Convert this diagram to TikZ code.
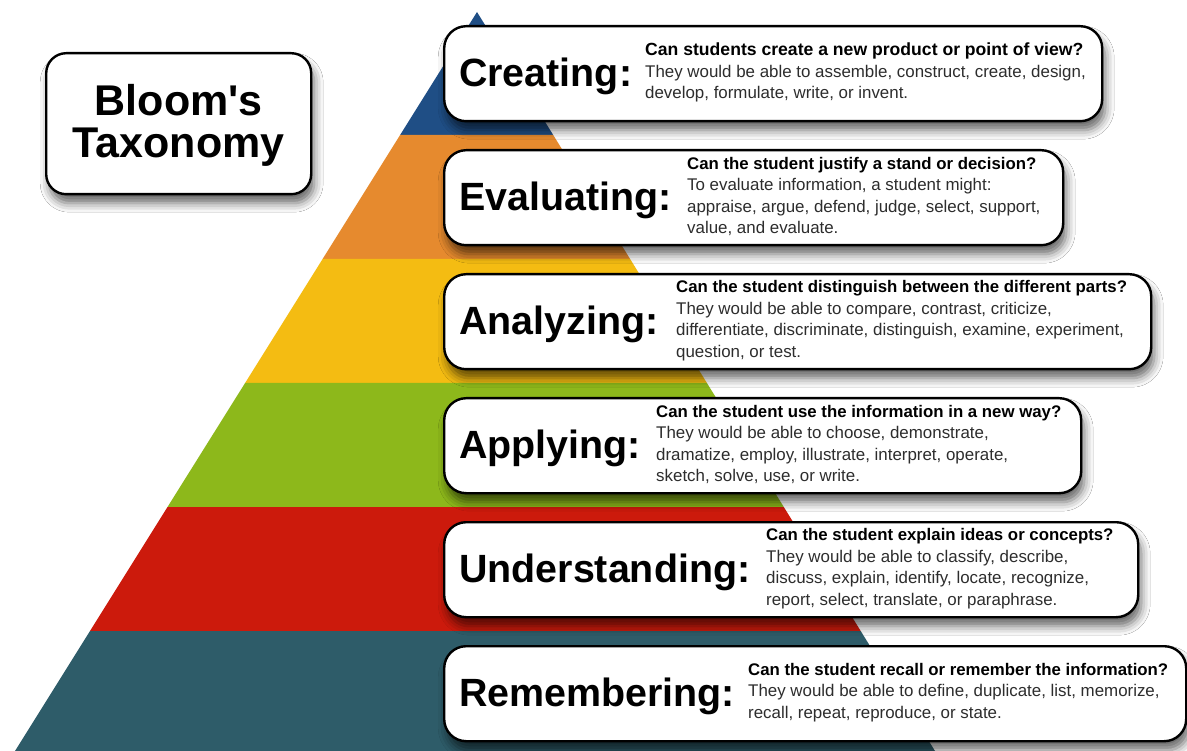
\documentclass[tikz,border=0pt]{standalone}
\usepackage{fontspec}
\setmainfont{Liberation Sans}
\usetikzlibrary{shadows.blur}
\definecolor{cBlue}{RGB}{31,78,133}
\definecolor{cOrange}{RGB}{230,138,46}
\definecolor{cYellow}{RGB}{244,188,18}
\definecolor{cGreen}{RGB}{141,184,27}
\definecolor{cRed}{RGB}{204,26,12}
\definecolor{cTeal}{RGB}{46,92,105}
\definecolor{descgray}{RGB}{45,45,45}
\tikzset{
  box/.style={draw=black, line width=2.4pt, fill=white, rounded corners=22pt,
    blur shadow={shadow xshift=3pt, shadow yshift=-9pt, shadow blur radius=9pt, shadow opacity=60},
    anchor=north west, inner sep=0pt},
  head/.style={anchor=base west, inner sep=0pt, font=\fontsize{39.4}{44}\selectfont\bfseries},
  desc/.style={anchor=west, inner sep=0pt, align=left, text=descgray,
    font=\fontsize{16.9}{21.5}\selectfont},
}
\newcommand{\qline}[2][16.8]{{\color{black}\bfseries\fontsize{#1}{21.5}\selectfont #2}}
\begin{document}
\begin{tikzpicture}[x=1pt,y=-1pt]
\useasboundingbox (0,0) rectangle (1187,751);
\fill[white] (0,0) rectangle (1187,751);
% pyramid bands
\fill[cBlue]   (477,12) -- (553.2,135) -- (400.1,135) -- cycle;
\fill[cOrange] (400.1,135) -- (553.2,135) -- (630.1,259) -- (322.6,259) -- cycle;
\fill[cYellow] (322.6,259) -- (630.1,259) -- (706.9,383) -- (245.1,383) -- cycle;
\fill[cGreen]  (245.1,383) -- (706.9,383) -- (783.8,507) -- (167.5,507) -- cycle;
\fill[cRed]    (167.5,507) -- (783.8,507) -- (860.7,631) -- (90.0,631) -- cycle;
\fill[cTeal]   (90.0,631) -- (860.7,631) -- (935,751) -- (15,751) -- cycle;
% title box
\node[box, minimum width=265pt, minimum height=141pt, rounded corners=20pt] (title) at (45,52) {};
\node[align=center, inner sep=0pt, font=\fontsize{43}{42}\selectfont\bfseries] (titletext) at ([yshift=-2pt]title.center) {Bloom\textquotesingle s\\Taxonomy};
% level boxes
\node[box, minimum width=658pt, minimum height=95pt] (b1) at (443,25) {};
\node[box, minimum width=619pt, minimum height=95pt] (b2) at (443,149) {};
\node[box, minimum width=707pt, minimum height=95pt] (b3) at (443,273) {};
\node[box, minimum width=637pt, minimum height=95pt] (b4) at (443,397) {};
\node[box, minimum width=694pt, minimum height=95pt] (b5) at (443,521) {};
\node[box, minimum width=742pt, minimum height=95pt] (b6) at (443,645) {};
% headings
\node[head] (h1) at (459,86.5) {Creating:};
\node[head] (h2) at (459,210.5) {Evaluating:};
\node[head] (h3) at (459,334.5) {Analyzing:};
\node[head] (h4) at (459,458.5) {Applying:};
\node[head] (h5) at (459,582.5) {Understanding:};
\node[head] (h6) at (459,706.5) {Remembering:};
% descriptions
\node[desc] (d1) at (645,72.5) {\qline[17.6]{Can students create a new product or point of view?}\\They would be able to assemble, construct, create, design,\\develop, formulate, write, or invent.};
\node[desc] (d2) at (687,196.5) {\qline{Can the student justify a stand or decision?}\\To evaluate information, a student might:\\appraise, argue, defend, judge, select, support,\\value, and evaluate.};
\node[desc] (d3) at (676,320.5) {\qline{Can the student distinguish between the different parts?}\\They would be able to compare, contrast, criticize,\\differentiate, discriminate, distinguish, examine, experiment,\\question, or test.};
\node[desc] (d4) at (656,444.5) {\qline{Can the student use the information in a new way?}\\They would be able to choose, demonstrate,\\dramatize, employ, illustrate, interpret, operate,\\sketch, solve, use, or write.};
\node[desc] (d5) at (766,568.5) {\qline{Can the student explain ideas or concepts?}\\They would be able to classify, describe,\\discuss, explain, identify, locate, recognize,\\report, select, translate, or paraphrase.};
\node[desc] (d6) at (748,692.5) {\qline{Can the student recall or remember the information?}\\They would be able to define, duplicate, list, memorize,\\recall, repeat, reproduce, or state.};
\end{tikzpicture}
\end{document}
